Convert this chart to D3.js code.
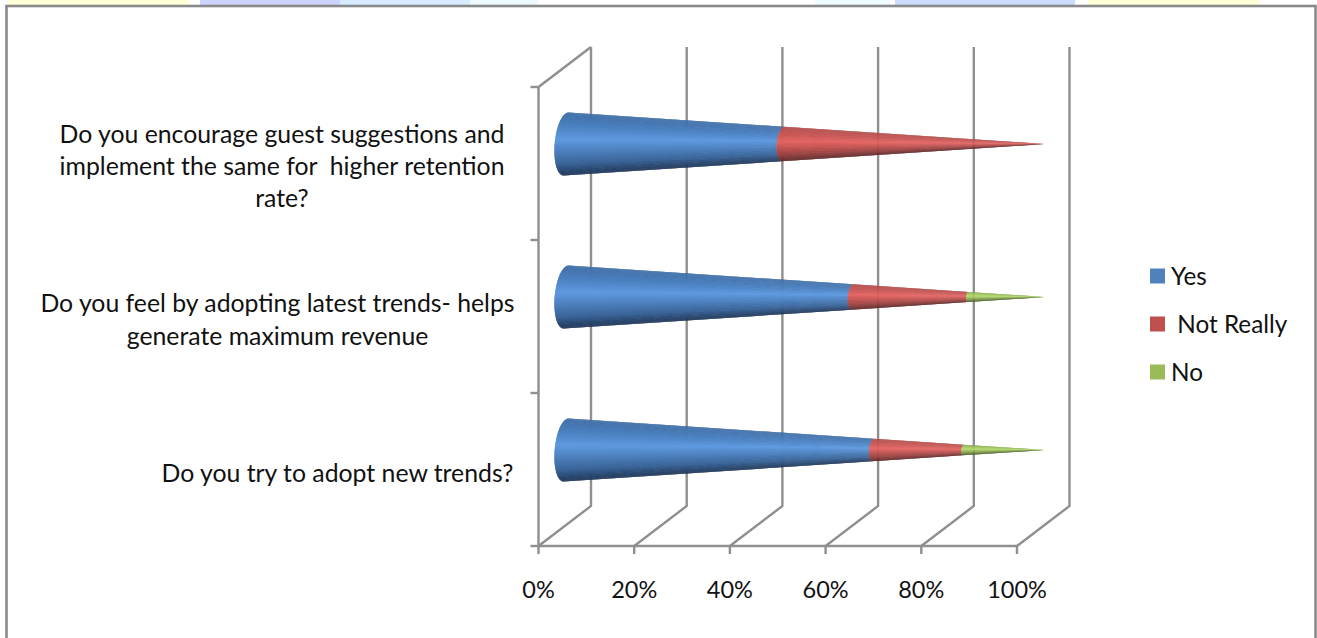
<!DOCTYPE html>
<html><head><meta charset="utf-8">
<script src="https://cdn.jsdelivr.net/npm/d3@7"></script>
<style>html,body{margin:0;background:#fff;overflow:hidden}svg{display:block}text{font-family:Lato,"Open Sans",sans-serif;fill:#111}</style>
</head><body><svg id="c" width="1317" height="638"></svg>
<script>
const categories = [
  ["Do you encourage guest suggestions and","implement the same for  higher retention","rate?"],
  ["Do you feel by adopting latest trends- helps","generate maximum revenue"],
  ["Do you try to adopt new trends?"]
];
const seriesNames = ["Yes"," Not Really","No"];
const yesValues = [50,65,69.5];
const notReallyValues = [50,25,19.5];
const noValues = [0,10,11];
const tickLabels = [0,20,40,60,80,100];
const seriesRamps = [
  ["#3f6ea6","#4c82c2","#5f9ae0","#4d80bd","#3a6498","#1d3557"],
  ["#b04a48","#c85654","#e46462","#c25250","#984040","#5c2524"],
  ["#86a850","#9dc45c","#b2d96a","#94b656","#728d42","#4a5c2a"]
];
const legendColors = ["#4f81bd","#c0504d","#9bbb59"];

const svg = d3.select("#c");
// watermark strip
const strip=[[8,189,"#ffffd8"],[200,340,"#ccd4ff"],[340,470,"#d8ecff"],[470,538,"#eefaff"],[815,890,"#eefcff"],[895,1075,"#cbdcff"],[1088,1260,"#ffffd8"]];
svg.selectAll("rect.s").data(strip).join("rect").attr("x",d=>d[0]).attr("y",0).attr("width",d=>d[1]-d[0]).attr("height",6).attr("fill",d=>d[2]);
svg.append("rect").attr("x",6.5).attr("y",6).attr("width",1309).attr("height",640).attr("fill","#fff").attr("stroke","#8a8a8a").attr("stroke-width",2.6);

const x=d3.scaleLinear().domain([0,100]).range([538.5,1017]);
const y=d3.scaleBand().domain(d3.range(3)).range([87,546]);
const dx=52.5,dy=-40;
const grid=svg.append("g").attr("fill","none").attr("stroke","#8f8f8f").attr("stroke-width",2.4);
tickLabels.forEach(t=>{
  const X=x(t);
  grid.append("path").attr("d",`M${X},${y.range()[1]}L${X+dx},${y.range()[1]+dy}L${X+dx},${y.range()[0]+dy}`);
  grid.append("path").attr("d",`M${X},${y.range()[1]}v8`);
});
grid.append("path").attr("d",`M${x(0)},${y.range()[0]}L${x(0)},${y.range()[1]}H${x(100)}`);
grid.append("path").attr("d",`M${x(0)},${y.range()[0]}L${x(0)+dx},${y.range()[0]+dy}`);
d3.range(4).forEach(i=>{const Y=87+i*y.step();grid.append("path").attr("d",`M${x(0)-8},${Y}H${x(0)}`);});

// cones: perspective position along the cone axis
const coneX=d3.scaleLinear().domain([0,50,90,100]).range([566,783,968,1045]);
const R=31.5, tip=coneX(100), base=coneX(0);
const N=90;
const ang=d3.range(N+1).map(i=>-Math.PI/2+Math.PI*i/N);
function pt(v,th,cy){
  const cx=coneX(v), k=(tip-cx)/(tip-base), r=R*k;
  return [cx-r*0.36*Math.cos(th)-2.5*k*Math.sin(th), cy+r*Math.sin(th)];
}
const series=[yesValues,notReallyValues,noValues];
const gC=svg.append("g");
categories.forEach((c,i)=>{
  const cy=y(i)+y.bandwidth()/2+dy/2+0.5;
  let acc=0;
  series.forEach((vals,s)=>{
    const v=vals[i];
    if(v<=0)return;
    const a=acc,b=acc+v;acc=b;
    const col=d3.scaleLinear().domain([0,.22,.42,.62,.82,1]).range(seriesRamps[s]);
    for(let j=0;j<N;j++){
      const f=(j+.5)/N, e=Math.min(j+2,N);
      const p=[pt(a,ang[j],cy),pt(b,ang[j],cy),pt(b,ang[e],cy),pt(a,ang[e],cy)];
      const t=(Math.sin(-Math.PI/2+Math.PI*f)+1)/2;
      gC.append("polygon").attr("points",p.map(q=>q.join(",")).join(" ")).attr("fill",col(t));
    }
  });
});

// labels
const fs=24.8;
const labelPos=[[282,134,32],[277.5,303,33],[337.5,473,0]];
categories.forEach((ls,i)=>{
  ls.forEach((l,k)=>svg.append("text").style("white-space","pre").attr("x",labelPos[i][0]).attr("y",labelPos[i][1]+k*labelPos[i][2]).attr("dy",".35em").attr("text-anchor","middle").attr("font-size",fs).text(l));
});
tickLabels.forEach(t=>svg.append("text").attr("x",x(t)).attr("y",590).attr("dy",".35em").attr("text-anchor","middle").attr("font-size",23.5).text(t+"%"));
// legend
const legY=d3.scalePoint().domain(seriesNames).range([276,372]);
seriesNames.forEach((n,i)=>{
  svg.append("rect").attr("x",1150).attr("y",legY(n)-7.5).attr("width",15).attr("height",15).attr("fill",legendColors[i]);
  svg.append("text").style("white-space","pre").attr("x",1171).attr("y",legY(n)).attr("dy",".35em").attr("font-size",24.3).text(n);
});
</script></body></html>
